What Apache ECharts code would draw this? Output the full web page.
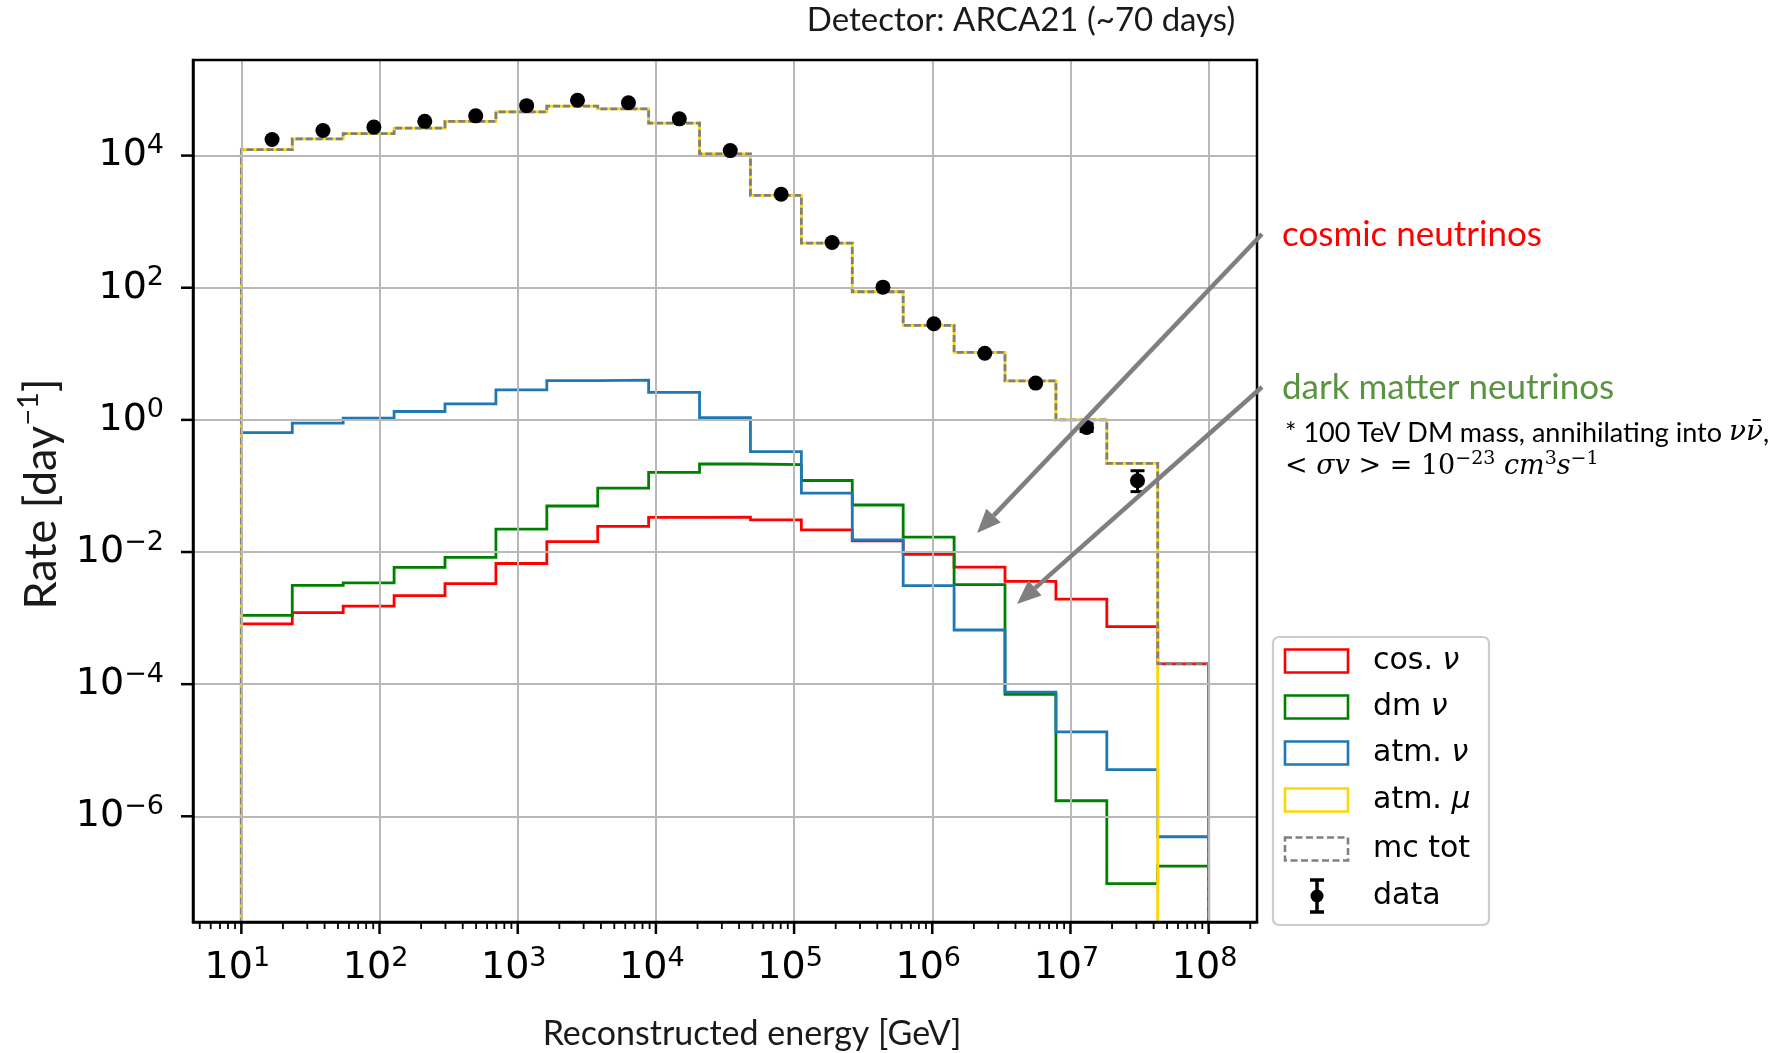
<!DOCTYPE html>
<html>
<head>
<meta charset="utf-8">
<title>ARCA21 reconstructed energy spectrum</title>
<style>
  html, body { margin: 0; padding: 0; background: #ffffff; }
  #chart { width: 1782px; height: 1053px; }
</style>
<script src="https://cdn.jsdelivr.net/npm/echarts@6/dist/echarts.min.js"></script>
</head>
<body>
<div id="chart"></div>
<script>
// Histogram bin edges [GeV]: 19 log-uniform bins from 10 GeV to 100 PeV
const binEdges = [10, 23.357, 54.556, 127.43, 297.64, 695.19, 1623.8, 3792.7, 8858.7,
  20691, 48329, 112884, 263665, 615848, 1438450, 3359818, 7847600, 18329807, 42813324, 1e8];

// Expected rates per bin [day^-1]
const cosmicNu = [8.2e-4, 1.21e-3, 1.52e-3, 2.19e-3, 3.33e-3, 6.7e-3, 1.44e-2, 2.45e-2, 3.34e-2,
  3.38e-2, 3.07e-2, 2.17e-2, 1.48e-2, 9.2e-3, 5.9e-3, 3.6e-3, 1.94e-3, 7.4e-4, 2.03e-4];
const darkMatterNu = [1.1e-3, 3.13e-3, 3.41e-3, 5.85e-3, 8.3e-3, 2.22e-2, 4.97e-2, 9.27e-2, 0.161,
  0.215, 0.21, 0.121, 0.0515, 0.0168, 3.2e-3, 7.0e-5, 1.72e-6, 9.6e-8, 1.76e-7];
const atmNu = [0.64, 0.89, 1.06, 1.34, 1.75, 2.85, 3.94, 4.0, 2.6,
  1.08, 0.33, 0.078, 0.0153, 3.1e-3, 6.6e-4, 7.6e-5, 1.9e-5, 5.1e-6, 4.9e-7];
const atmMu = [1.23e4, 1.79e4, 2.15e4, 2.6e4, 3.3e4, 4.6e4, 5.6e4, 5.1e4, 3.1e4,
  1.06e4, 2.5e3, 475, 87, 27, 10.5, 3.9, 1.0, 0.22, 0];
const mcTotal = [1.23e4, 1.79e4, 2.15e4, 2.6e4, 3.3e4, 4.6e4, 5.6e4, 5.1e4, 3.1e4,
  1.06e4, 2.5e3, 475, 87, 27, 10.5, 3.9, 1.0, 0.22, 2.04e-4];

// Measured rates (bin mean energy [GeV], rate [day^-1], error band)
const dataEnergy = [16.68, 38.96, 90.99, 212.5, 496.4, 1159.5, 2708, 6326, 14775,
  34510, 80606, 188275, 439760, 1027150, 2399130, 5603690, 13088740, 30571600];
const dataRate = [1.75e4, 2.4e4, 2.7e4, 3.3e4, 4.0e4, 5.7e4, 6.9e4, 6.3e4, 3.6e4,
  1.19e4, 2.6e3, 485, 102, 28.5, 10.2, 3.6, 0.77, 0.12];
const dataErrLow = [null, null, null, null, null, null, null, null, null,
  null, null, null, null, null, null, null, 0.67, 0.082];
const dataErrHigh = [null, null, null, null, null, null, null, null, null,
  null, null, null, null, null, null, null, 0.87, 0.17];

// Decade exponents carrying tick labels
const xTickExponents = [1, 2, 3, 4, 5, 6, 7, 8];
const yTickExponents = [-6, -4, -2, 0, 2, 4];

// Visible axis range, in log10 units
const X_MIN_LOG = 0.65, X_MAX_LOG = 8.35;
const Y_MIN_LOG = -7.6, Y_MAX_LOG = 5.447;
const LOG_FLOOR = -9; // below the axis floor: used for empty bins and outline ends

const GRID = { left: 193, top: 60, width: 1064, height: 862 };

const lg = v => (v > 0 ? Math.log10(v) : LOG_FLOOR);
const isDecade = v => Math.abs(v - Math.round(v)) < 1e-6;
const expText = e => (e < 0 ? '\u2212' + (-e) : String(e));

// Step outline of a histogram, closed down to the floor at both ends
function stepOutline(values) {
  const last = binEdges.length - 1;
  const pts = [[lg(binEdges[0]), LOG_FLOOR]];
  values.forEach((v, i) => pts.push([lg(binEdges[i]), lg(v)]));
  pts.push([lg(binEdges[last]), lg(values[values.length - 1])]);
  pts.push([lg(binEdges[last]), LOG_FLOOR]);
  return pts;
}

function histSeries(name, values, color, dashed) {
  return {
    name, type: 'line', step: 'end', data: stepOutline(values),
    symbol: 'none', showSymbol: false, silent: true, z: 2,
    lineStyle: { color, width: 2.8, type: dashed ? [7, 3] : 'solid', cap: 'butt', join: 'miter', opacity: 1 },
    clip: true
  };
}

// Minor tick positions (2..9 x 10^d) inside the x range
const xMinorTicks = [];
for (let d = 0; d <= 8; d++) {
  for (let m = 2; m <= 9; m++) {
    const v = d + Math.log10(m);
    if (v > X_MIN_LOG && v < X_MAX_LOG) xMinorTicks.push(v);
  }
}

const tickFont = 'DejaVu Sans';
const labelRich = {
  b: { fontFamily: tickFont, fontSize: 38, lineHeight: 46, color: '#000' },
  s: { fontFamily: tickFont, fontSize: 27, lineHeight: 25, verticalAlign: 'top', color: '#000' }
};
const decadeLabel = v => (isDecade(v) ? '{b|10}{s|' + expText(Math.round(v)) + '}' : '');

// Arrow (shaft + head) as graphic elements
function arrow(x1, y1, x2, y2) {
  const a = Math.atan2(y2 - y1, x2 - x1);
  const L = 24, W = 10;
  const bx = x2 - L * Math.cos(a), by = y2 - L * Math.sin(a);
  const nx = -Math.sin(a), ny = Math.cos(a);
  return [
    { type: 'line', z: 20, shape: { x1, y1, x2: bx, y2: by }, style: { stroke: '#7f7f7f', lineWidth: 4.5 } },
    { type: 'polygon', z: 20, shape: { points: [[x2, y2], [bx + W * nx, by + W * ny], [bx - W * nx, by - W * ny]] },
      style: { fill: '#7f7f7f' } }
  ];
}

// Legend entries
const legendItems = [
  { label: '{t|cos. }{i|\u03bd}', color: '#ff0000' },
  { label: '{t|dm }{i|\u03bd}', color: '#008000' },
  { label: '{t|atm. }{i|\u03bd}', color: '#1f77b4' },
  { label: '{t|atm. }{i|\u03bc}', color: '#ffd700' },
  { label: '{t|mc tot}', color: '#808080', dashed: true },
  { label: '{t|data}', marker: true }
];
const LEG = { x: 1273, y: 637, w: 216, h: 288 };
const legendRows = [661, 707, 753, 800, 849, 896];
const legendRich = {
  t: { fontFamily: 'DejaVu Sans', fontSize: 30, color: '#000' },
  i: { fontFamily: 'DejaVu Sans', fontSize: 30, fontStyle: 'italic', color: '#000' }
};
const legendGraphics = [{
  type: 'rect', z: 30,
  shape: { x: LEG.x, y: LEG.y, width: LEG.w, height: LEG.h, r: 6 },
  style: { fill: '#ffffff', stroke: '#cccccc', lineWidth: 2.2 }
}];
legendItems.forEach((it, k) => {
  const cy = legendRows[k];
  if (it.marker) {
    const cx = 1317;
    legendGraphics.push(
      { type: 'line', z: 31, shape: { x1: cx, y1: cy - 16, x2: cx, y2: cy + 16 }, style: { stroke: '#000', lineWidth: 3.5 } },
      { type: 'line', z: 31, shape: { x1: cx - 7, y1: cy - 16, x2: cx + 7, y2: cy - 16 }, style: { stroke: '#000', lineWidth: 3.5 } },
      { type: 'line', z: 31, shape: { x1: cx - 7, y1: cy + 16, x2: cx + 7, y2: cy + 16 }, style: { stroke: '#000', lineWidth: 3.5 } },
      { type: 'circle', z: 31, shape: { cx, cy, r: 6.5 }, style: { fill: '#000' } }
    );
  } else {
    legendGraphics.push({
      type: 'rect', z: 31,
      shape: { x: 1285, y: cy - 11.5, width: 63, height: 23 },
      style: { fill: 'none', stroke: it.color, lineWidth: 2.6, lineDash: it.dashed ? [7, 3.5] : null }
    });
  }
  legendGraphics.push({
    type: 'text', z: 31, x: 1373, y: cy,
    style: { text: it.label, rich: legendRich, align: 'left', verticalAlign: 'middle' }
  });
});

const option = {
  animation: false,
  backgroundColor: '#ffffff',
  textStyle: { fontFamily: 'DejaVu Sans' },
  grid: { left: GRID.left, top: GRID.top, width: GRID.width, height: GRID.height, show: false, containLabel: false },
  xAxis: {
    type: 'value', min: X_MIN_LOG, max: X_MAX_LOG, splitNumber: 8, z: 3,
    axisLine: { show: true, onZero: false, lineStyle: { color: '#000', width: 2.5 } },
    axisTick: { show: false },
    splitLine: { show: true, showMinLine: false, showMaxLine: false, lineStyle: { color: '#b8b8b8', width: 2 } },
    axisLabel: { margin: 23, formatter: decadeLabel, rich: labelRich, padding: [0, 8, 0, 0] }
  },
  yAxis: {
    type: 'value', min: Y_MIN_LOG, max: Y_MAX_LOG, splitNumber: 6, z: 3,
    axisLine: { show: true, onZero: false, lineStyle: { color: '#000', width: 2.5 } },
    axisTick: { show: false },
    splitLine: { show: true, showMinLine: false, showMaxLine: false, lineStyle: { color: '#b8b8b8', width: 2 } },
    axisLabel: { margin: 29, formatter: decadeLabel, rich: labelRich }
  },
  series: [
    histSeries('cos. \u03bd', cosmicNu, '#ff0000'),
    histSeries('dm \u03bd', darkMatterNu, '#008000'),
    histSeries('atm. \u03bd', atmNu, '#1f77b4'),
    histSeries('atm. \u03bc', atmMu, '#ffd700'),
    histSeries('mc tot', mcTotal, '#808080', true),
    {
      name: 'data', type: 'scatter', z: 5, silent: true,
      symbol: 'circle', symbolSize: 15, itemStyle: { color: '#000', opacity: 1 },
      data: dataEnergy.map((e, i) => [lg(e), lg(dataRate[i])])
    },
    {
      name: 'data errors', type: 'custom', z: 5, silent: true,
      data: dataEnergy.map((e, i) => [lg(e), lg(dataErrLow[i]), lg(dataErrHigh[i])])
        .filter((d, i) => dataErrLow[i] != null),
      encode: { x: 0, y: [1, 2] },
      renderItem: (params, api) => {
        const lo = api.coord([api.value(0), api.value(1)]);
        const hi = api.coord([api.value(0), api.value(2)]);
        const st = { stroke: '#000', lineWidth: 3 };
        return {
          type: 'group', children: [
            { type: 'line', shape: { x1: lo[0], y1: lo[1], x2: hi[0], y2: hi[1] }, style: st },
            { type: 'line', shape: { x1: lo[0] - 7, y1: lo[1], x2: lo[0] + 7, y2: lo[1] }, style: st },
            { type: 'line', shape: { x1: hi[0] - 7, y1: hi[1], x2: hi[0] + 7, y2: hi[1] }, style: st }
          ]
        };
      }
    },
    {
      // x-axis major and minor tick marks, pointing outward
      name: 'x ticks', type: 'custom', z: 6, silent: true, clip: false,
      data: xTickExponents.map(v => [v, 1]).concat(xMinorTicks.map(v => [v, 0])),
      encode: { x: 0 },
      renderItem: (params, api) => {
        const major = api.value(1) === 1;
        const p = api.coord([api.value(0), Y_MIN_LOG]);
        return { type: 'line', shape: { x1: p[0], y1: p[1], x2: p[0], y2: p[1] + (major ? 12 : 7) },
          style: { stroke: '#000', lineWidth: major ? 2.5 : 1.8 } };
      }
    },
    {
      // y-axis major tick marks
      name: 'y ticks', type: 'custom', z: 6, silent: true, clip: false,
      data: yTickExponents.map(v => [X_MIN_LOG, v]),
      encode: { x: 0, y: 1 },
      renderItem: (params, api) => {
        const p = api.coord([X_MIN_LOG, api.value(1)]);
        return { type: 'line', shape: { x1: p[0] - 12, y1: p[1], x2: p[0], y2: p[1] },
          style: { stroke: '#000', lineWidth: 2.5 } };
      }
    }
  ],
  graphic: [
    // plot frame
    { type: 'rect', z: 10, silent: true,
      shape: { x: GRID.left, y: GRID.top, width: GRID.width, height: GRID.height },
      style: { fill: 'none', stroke: '#000', lineWidth: 2.5 } },
    { type: 'text', z: 10, x: 1021, y: 20,
      style: { text: 'Detector: ARCA21 (~70 days)', fontFamily: 'Lato', fontSize: 33, fill: '#1a1a1a',
        align: 'center', verticalAlign: 'middle' } },
    { type: 'text', z: 10, x: 752, y: 1034,
      style: { text: 'Reconstructed energy [GeV]', fontFamily: 'Lato', fontSize: 34, fill: '#1a1a1a',
        align: 'center', verticalAlign: 'middle' } },
    { type: 'text', z: 10, x: 41, y: 494, rotation: Math.PI / 2,
      style: { text: '{r|Rate [day}{s|\u22121}{r|]}', align: 'center', verticalAlign: 'middle',
        rich: {
          r: { fontFamily: 'Lato', fontSize: 45, lineHeight: 54, fill: '#1a1a1a' },
          s: { fontFamily: 'Lato', fontSize: 29, lineHeight: 25, verticalAlign: 'top', fill: '#1a1a1a' }
        } } },
    { type: 'text', z: 10, x: 1282, y: 235,
      style: { text: 'cosmic neutrinos', fontFamily: 'Lato', fontSize: 35, fill: '#ff0000',
        align: 'left', verticalAlign: 'middle' } },
    { type: 'text', z: 10, x: 1282, y: 388,
      style: { text: 'dark matter neutrinos', fontFamily: 'Lato', fontSize: 35, fill: '#5b9440',
        align: 'left', verticalAlign: 'middle' } },
    { type: 'text', z: 10, x: 1285, y: 433,
      style: { text: '{t|* 100 TeV DM mass, annihilating into }{m|\u03bd\u03bd\u0304}{t|,}',
        align: 'left', verticalAlign: 'middle',
        rich: {
          t: { fontFamily: 'Lato', fontSize: 27, fill: '#000' },
          m: { fontFamily: 'DejaVu Serif', fontSize: 28, fontStyle: 'italic', fill: '#000' }
        } } },
    { type: 'text', z: 10, x: 1285, y: 467,
      style: { text: '{u|< }{m|\u03c3v}{u| > = 10}{su|\u221223}{m| cm}{su|3}{m|s}{su|\u22121}',
        align: 'left', verticalAlign: 'middle',
        rich: {
          u: { fontFamily: 'DejaVu Serif', fontSize: 27, lineHeight: 34, fill: '#000' },
          m: { fontFamily: 'DejaVu Serif', fontSize: 27, lineHeight: 34, fontStyle: 'italic', fill: '#000' },
          su: { fontFamily: 'DejaVu Serif', fontSize: 19, lineHeight: 18, verticalAlign: 'top', fill: '#000' }
        } } }
  ].concat(arrow(1262, 234, 977, 533), arrow(1262, 387, 1017, 604), legendGraphics)
};

const chart = echarts.init(document.getElementById('chart'));
chart.setOption(option);
</script>
</body>
</html>
